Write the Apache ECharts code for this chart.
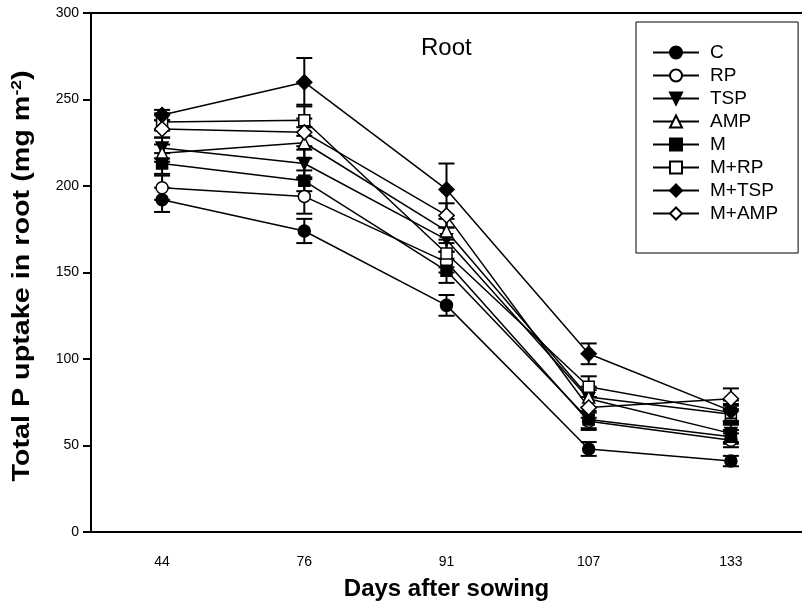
<!DOCTYPE html>
<html>
<head>
<meta charset="utf-8">
<script src="https://cdn.jsdelivr.net/npm/echarts@6/dist/echarts.min.js"></script>
<style>
  body { margin: 0; background: #fff; }
  #chart { width: 802px; height: 615px; }
</style>
</head>
<body>
<div id="chart"></div>
<script>
const days = ['44', '76', '91', '107', '133']

const C = [192, 174, 131, 48, 41]
const RP = [199, 194, 156, 64, 53]
const TSP = [222, 213, 169, 77, 57]
const AMP = [219, 225, 174, 78, 68]
const M = [213, 203, 151, 65, 55]
const M_RP = [237, 238, 161, 84, 69]
const M_TSP = [241, 260, 198, 103, 70]
const M_AMP = [233, 231, 183, 72, 77]

// standard errors
const C_err = [7, 7, 6, 4, 3]
const RP_err = [7, 10, 6, 5, 4]
const TSP_err = [6, 8, 7, 5, 5]
const AMP_err = [5, 9, 7, 6, 5]
const M_err = [6, 6, 7, 5, 4]
const M_RP_err = [5, 9, 8, 6, 5]
const M_TSP_err = [3, 14, 15, 6, 6]
const M_AMP_err = [5, 8, 7, 6, 6]

const treatments = [
  { name: 'C', values: C, err: C_err, symbol: 'circle', fill: '#000' },
  { name: 'RP', values: RP, err: RP_err, symbol: 'circle', fill: '#fff' },
  { name: 'TSP', values: TSP, err: TSP_err, symbol: 'path://M0,0 L10,0 L5,9 Z', fill: '#000' },
  { name: 'AMP', values: AMP, err: AMP_err, symbol: 'triangle', fill: '#fff' },
  { name: 'M', values: M, err: M_err, symbol: 'rect', fill: '#000' },
  { name: 'M+RP', values: M_RP, err: M_RP_err, symbol: 'rect', fill: '#fff' },
  { name: 'M+TSP', values: M_TSP, err: M_TSP_err, symbol: 'diamond', fill: '#000' },
  { name: 'M+AMP', values: M_AMP, err: M_AMP_err, symbol: 'diamond', fill: '#fff' },
]

const font = 'Liberation Sans, Arial'

const chart = echarts.init(document.getElementById('chart'))

const errorSeries = (t) => {
  return {
    type: 'custom',
    name: t.name + ' err',
    z: 1,
    silent: true,
    data: t.values.map((v, i) => [i, v - t.err[i], v + t.err[i]]),
    renderItem: (params, api) => {
      const lo = api.coord([api.value(0), api.value(1)])
      const hi = api.coord([api.value(0), api.value(2)])
      const half = 8
      const style = { stroke: '#000', lineWidth: 2 }
      return {
        type: 'group',
        children: [
          { type: 'line', shape: { x1: lo[0], y1: lo[1], x2: hi[0], y2: hi[1] }, style: style },
          { type: 'line', shape: { x1: lo[0] - half, y1: lo[1], x2: lo[0] + half, y2: lo[1] }, style: style },
          { type: 'line', shape: { x1: hi[0] - half, y1: hi[1], x2: hi[0] + half, y2: hi[1] }, style: style },
        ],
      }
    },
  }
}

const lineSeries = (t) => {
  let size = 12
  if (t.symbol == 'diamond') size = 15
  if (t.symbol == 'rect') size = 11
  return {
    type: 'line',
    name: t.name,
    z: 2,
    data: t.values,
    symbol: t.symbol,
    symbolSize: size,
    showAllSymbol: true,
    lineStyle: { color: '#000', width: 1.5 },
    itemStyle: { color: t.fill, borderColor: '#000', borderWidth: 1.5 },
    emphasis: { disabled: true },
  }
}

const series = []
for (const t of treatments) {
  series.push(errorSeries(t))
}
for (const t of treatments) {
  series.push(lineSeries(t))
}

const option = {
  animation: false,
  backgroundColor: '#fff',
  title: {
    text: 'Root',
    left: 416,
    top: 31,
    textStyle: { fontFamily: font, fontSize: 24, fontWeight: 'normal', color: '#000' },
  },
  // y axis title drawn as text so it can be stretched along its length like the original
  graphic: [
    {
      type: 'text',
      x: 23,
      y: 276,
      rotation: Math.PI / 2,
      scaleX: 1.25,
      style: {
        text: 'Total P uptake in root (mg m{sup|-2})',
        fontFamily: font,
        fontSize: 23,
        fontWeight: 'bold',
        fill: '#000',
        align: 'center',
        verticalAlign: 'middle',
        rich: {
          sup: { fontFamily: font, fontSize: 14, fontWeight: 'bold', fill: '#000', padding: [0, 0, 12, 0] },
        },
      },
    },
  ],
  legend: {
    orient: 'vertical',
    left: 636,
    top: 22,
    data: treatments.map(t => t.name),
    itemWidth: 46,
    itemHeight: 15,
    itemGap: 4,
    padding: [21, 20, 30, 16],
    backgroundColor: '#fff',
    borderColor: '#000',
    borderWidth: 1,
    textStyle: { fontFamily: font, fontSize: 19, color: '#000', lineHeight: 17, padding: [0, 0, 0, 6] },
  },
  grid: {
    left: 91,
    right: -10,
    top: 13,
    bottom: 83,
  },
  xAxis: [
    {
      type: 'category',
      data: days,
      boundaryGap: true,
      name: 'Days after sowing',
      nameLocation: 'middle',
      nameGap: 45,
      nameTextStyle: { fontFamily: font, fontSize: 24, fontWeight: 'bold', color: '#000' },
      axisLine: { lineStyle: { color: '#000', width: 2 } },
      axisTick: { alignWithLabel: true, length: 8, lineStyle: { color: '#000', width: 3 } },
      axisLabel: { margin: 23, fontFamily: font, fontSize: 14, color: '#000' },
      splitLine: { show: false },
    },
    {
      type: 'category',
      data: days,
      position: 'top',
      axisLine: { lineStyle: { color: '#000', width: 2 } },
      axisTick: { show: false },
      axisLabel: { show: false },
    },
  ],
  yAxis: {
    type: 'value',
    min: 0,
    max: 300,
    interval: 50,
    axisLine: { show: true, lineStyle: { color: '#000', width: 2 } },
    axisTick: { show: true, length: 8, lineStyle: { color: '#000', width: 2 } },
    axisLabel: { margin: 12, fontFamily: font, fontSize: 14, color: '#000' },
    splitLine: { show: false },
  },
  series: series,
}

chart.setOption(option)
</script>
</body>
</html>
